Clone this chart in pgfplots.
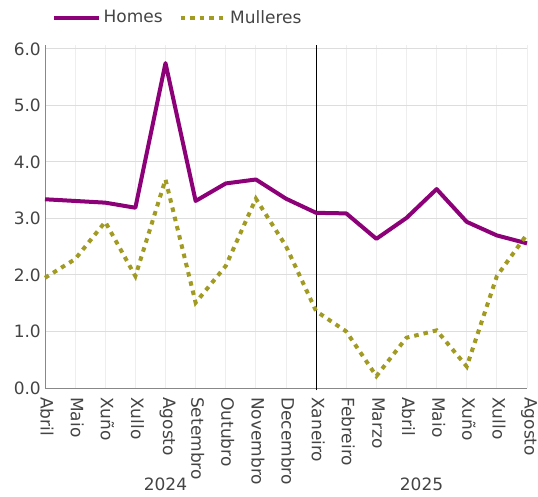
\documentclass[border=0pt]{standalone}
\usepackage{pgfplots}
\pgfplotsset{compat=1.18}
\usepackage{fontspec}
\setmainfont{DejaVu Sans}
\definecolor{homes}{HTML}{8C0078}
\definecolor{mull}{HTML}{A19B23}
\definecolor{txt}{HTML}{444444}
\definecolor{grida}{HTML}{DDDDDD}
\definecolor{gridb}{HTML}{EEEEEE}
\definecolor{axl}{HTML}{888888}
\begin{document}
\fontsize{17}{20}\selectfont
\begin{tikzpicture}
\useasboundingbox (-45pt,-108pt) rectangle (493pt,388pt);
\begin{axis}[
  scale only axis,
  width=482pt, height=343pt,
  at={(0,0)}, anchor=south west,
  xmin=0, xmax=16, ymin=0, ymax=6.07,
  axis lines*=left,
  axis line style={axl, line width=1pt, -},
  major tick length=0pt,
  xtick={0,...,16},
  xticklabels={Abril,Maio,Xuño,Xullo,Agosto,Setembro,Outubro,Novembro,Decembro,Xaneiro,Febreiro,Marzo,Abril,Maio,Xuño,Xullo,Agosto},
  ytick={0,1,2,3,4,5,6},
  yticklabel style={/pgf/number format/fixed, /pgf/number format/fixed zerofill, /pgf/number format/precision=1, /pgf/number format/assume math mode=true,
    text=txt, inner sep=0pt, anchor=east, font=\fontsize{17}{20}\selectfont},
  yticklabel shift=4pt,
  xticklabel style={text=txt, inner sep=0pt, xshift=2pt, rotate=-90, anchor=west, font=\fontsize{17}{20}\selectfont},
  xticklabel shift=9pt,
  xmajorgrids, ymajorgrids,
  x grid style={gridb, line width=0.8pt},
  y grid style={grida, line width=1pt},
  clip=false,
  legend columns=2,
  legend style={at={(0.0145,1.0787)}, anchor=west, draw=none, fill=none, inner sep=0pt,
    nodes={inner sep=0pt},
    font=\fontsize{17}{20}\selectfont, text=txt,
    /tikz/every odd column/.append style={column sep=2.5pt},
    /tikz/every even column/.append style={column sep=16pt}},
  legend image code/.code={\draw[#1] (0pt,0pt) -- (45pt,0pt);},
]
\addplot[forget plot, black, line width=1pt] coordinates {(9,-0.04) (9,6.07)};
\addplot[homes, line width=4pt, line join=round] coordinates {
(0,3.34) (1,3.31) (2,3.28) (3,3.19) (4,5.75) (5,3.31) (6,3.62) (7,3.69) (8,3.35)
(9,3.10) (10,3.09) (11,2.64) (12,3.01) (13,3.52) (14,2.94) (15,2.70) (16,2.56)};
\addlegendentry{Homes}
\addplot[mull, line width=4pt, dash pattern=on 4.5pt off 5pt] coordinates {
(0,1.95) (1,2.28) (2,2.94) (3,1.98) (4,3.69) (5,1.51) (6,2.16) (7,3.35) (8,2.51)
(9,1.36) (10,1.00) (11,0.21) (12,0.89) (13,1.02) (14,0.38) (15,1.98) (16,2.72)};
\addlegendentry{Mulleres}
\node[anchor=base, text=txt, inner sep=0pt] at (axis cs:4,0) [yshift=-102pt] {2024};
\node[anchor=base, text=txt, inner sep=0pt] at (axis cs:12.5,0) [yshift=-102pt] {2025};
\end{axis}
\end{tikzpicture}
\end{document}
